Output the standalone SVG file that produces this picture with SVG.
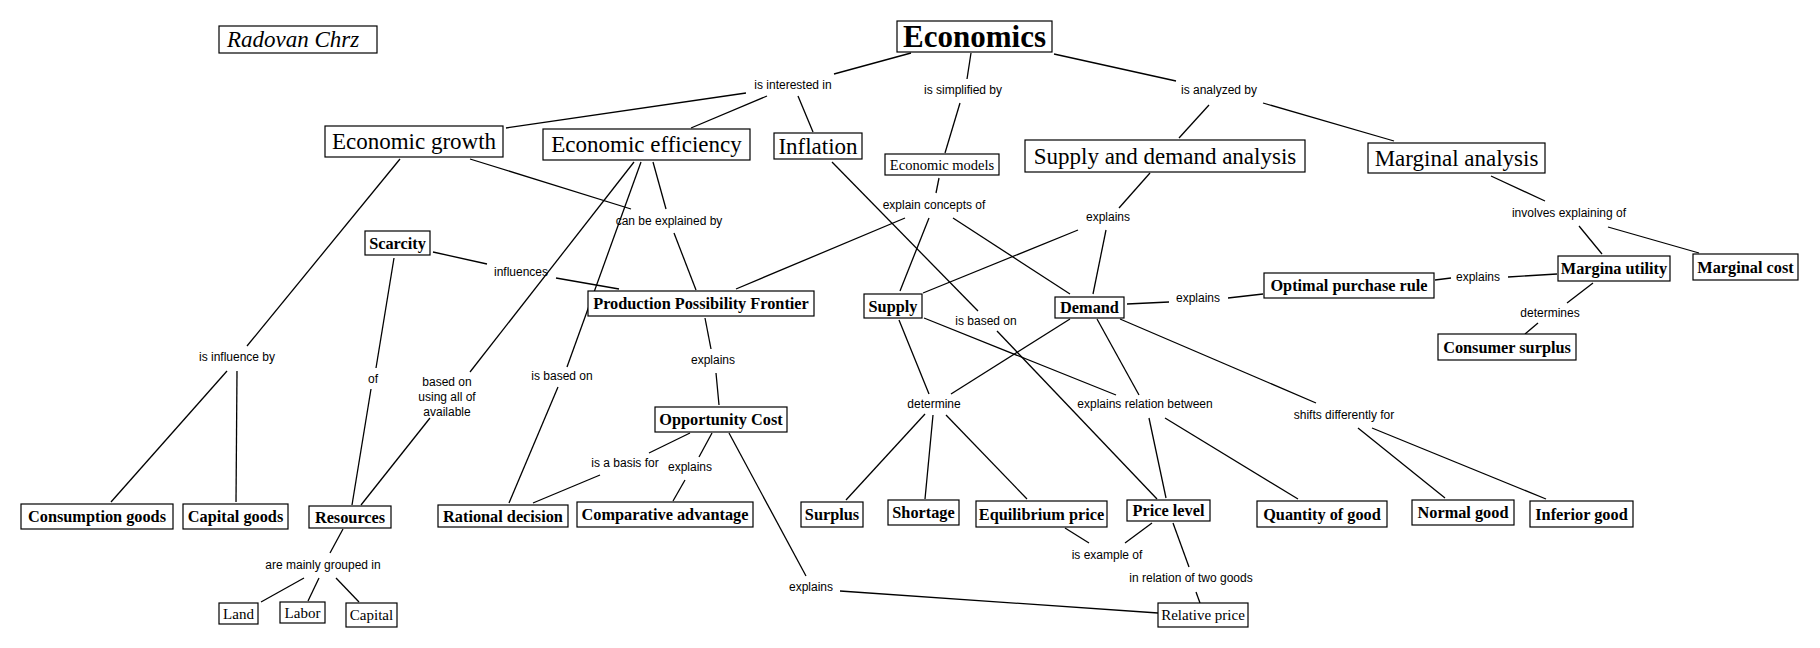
<svg xmlns="http://www.w3.org/2000/svg" width="1820" height="648" viewBox="0 0 1820 648">
<style>
.b{fill:#fff;stroke:#000;stroke-width:1.2}
.t{font-family:"Liberation Serif","Times New Roman",serif;fill:#000;text-anchor:middle}
.big{font-size:23px}
.bd{font-size:16.3px;font-weight:bold}
.sm{font-size:15px}
.lb{font-family:"Liberation Sans",Arial,sans-serif;font-size:12px;fill:#000;text-anchor:middle}
#connectors line{stroke:#000;stroke-width:1.3}
</style>
<rect width="1820" height="648" fill="#fff"/>
<g id="connectors">
<line x1="911" y1="53" x2="834" y2="74"/>
<line x1="746" y1="93" x2="506" y2="128"/>
<line x1="767" y1="96" x2="691" y2="128"/>
<line x1="798" y1="96" x2="813" y2="132"/>
<line x1="971" y1="53" x2="967" y2="79"/>
<line x1="960" y1="103" x2="945" y2="153"/>
<line x1="1054" y1="54" x2="1176" y2="81"/>
<line x1="1209" y1="105" x2="1179" y2="138"/>
<line x1="1263" y1="103" x2="1394" y2="141"/>
<line x1="832" y1="162" x2="978" y2="311"/>
<line x1="939" y1="178" x2="936" y2="193"/>
<line x1="1150" y1="173" x2="1119" y2="208"/>
<line x1="1491" y1="176" x2="1545" y2="201"/>
<line x1="674" y1="233" x2="696" y2="290"/>
<line x1="653" y1="162" x2="666" y2="209"/>
<line x1="634" y1="162" x2="470" y2="372"/>
<line x1="641" y1="162" x2="567" y2="367"/>
<line x1="558" y1="387" x2="509" y2="503"/>
<line x1="430" y1="418" x2="361" y2="505"/>
<line x1="394" y1="258" x2="376" y2="368"/>
<line x1="371" y1="389" x2="352" y2="505"/>
<line x1="433" y1="252" x2="487" y2="264"/>
<line x1="556" y1="278" x2="619" y2="289"/>
<line x1="400" y1="159" x2="247" y2="346"/>
<line x1="227" y1="371" x2="111" y2="502"/>
<line x1="237" y1="371" x2="236" y2="502"/>
<line x1="470" y1="159" x2="631" y2="209"/>
<line x1="705" y1="318" x2="711" y2="349"/>
<line x1="716" y1="373" x2="719" y2="405"/>
<line x1="905" y1="218" x2="736" y2="289"/>
<line x1="929" y1="218" x2="900" y2="291"/>
<line x1="953" y1="218" x2="1070" y2="294"/>
<line x1="1078" y1="230" x2="923" y2="293"/>
<line x1="1106" y1="230" x2="1093" y2="294"/>
<line x1="1127" y1="304" x2="1169" y2="302"/>
<line x1="1228" y1="298" x2="1263" y2="294"/>
<line x1="1435" y1="280" x2="1451" y2="278"/>
<line x1="1508" y1="277" x2="1557" y2="274"/>
<line x1="1579" y1="226" x2="1602" y2="254"/>
<line x1="1608" y1="227" x2="1699" y2="253"/>
<line x1="1593" y1="283" x2="1567" y2="303"/>
<line x1="1538" y1="323" x2="1525" y2="334"/>
<line x1="899" y1="320" x2="929" y2="394"/>
<line x1="1070" y1="319" x2="951" y2="394"/>
<line x1="924" y1="318" x2="1116" y2="395"/>
<line x1="1097" y1="319" x2="1139" y2="395"/>
<line x1="1120" y1="319" x2="1316" y2="403"/>
<line x1="997" y1="331" x2="1157" y2="499"/>
<line x1="925" y1="414" x2="846" y2="500"/>
<line x1="933" y1="415" x2="925" y2="499"/>
<line x1="946" y1="415" x2="1027" y2="499"/>
<line x1="1149" y1="418" x2="1166" y2="498"/>
<line x1="1165" y1="418" x2="1298" y2="499"/>
<line x1="1358" y1="428" x2="1445" y2="498"/>
<line x1="1372" y1="428" x2="1546" y2="499"/>
<line x1="690" y1="433" x2="649" y2="453"/>
<line x1="600" y1="475" x2="533" y2="503"/>
<line x1="712" y1="433" x2="699" y2="457"/>
<line x1="685" y1="480" x2="673" y2="501"/>
<line x1="729" y1="433" x2="806" y2="576"/>
<line x1="840" y1="591" x2="1158" y2="613"/>
<line x1="1065" y1="528" x2="1089" y2="543"/>
<line x1="1125" y1="543" x2="1152" y2="523"/>
<line x1="1173" y1="523" x2="1189" y2="567"/>
<line x1="1196" y1="592" x2="1200" y2="603"/>
<line x1="343" y1="529" x2="330" y2="553"/>
<line x1="304" y1="578" x2="261" y2="602"/>
<line x1="319" y1="578" x2="308" y2="601"/>
<line x1="336" y1="578" x2="359" y2="602"/>
</g>
<g id="labels">
<text class="lb" x="793" y="89">is interested in</text>
<text class="lb" x="963" y="94">is simplified by</text>
<text class="lb" x="1219" y="94">is analyzed by</text>
<text class="lb" x="669" y="225">can be explained by</text>
<text class="lb" x="934" y="209">explain concepts of</text>
<text class="lb" x="1108" y="221">explains</text>
<text class="lb" x="1569" y="217">involves explaining of</text>
<text class="lb" x="521" y="276">influences</text>
<text class="lb" x="1478" y="281">explains</text>
<text class="lb" x="1198" y="302">explains</text>
<text class="lb" x="1550" y="317">determines</text>
<text class="lb" x="237" y="361">is influence by</text>
<text class="lb" x="373" y="383">of</text>
<text class="lb" x="447" y="386">based on</text>
<text class="lb" x="447" y="401">using all of</text>
<text class="lb" x="447" y="416">available</text>
<text class="lb" x="562" y="380">is based on</text>
<text class="lb" x="713" y="364">explains</text>
<text class="lb" x="986" y="325">is based on</text>
<text class="lb" x="934" y="408">determine</text>
<text class="lb" x="1145" y="408">explains relation between</text>
<text class="lb" x="1344" y="419">shifts differently for</text>
<text class="lb" x="625" y="467">is a basis for</text>
<text class="lb" x="690" y="471">explains</text>
<text class="lb" x="323" y="569">are mainly grouped in</text>
<text class="lb" x="811" y="591">explains</text>
<text class="lb" x="1107" y="559">is example of</text>
<text class="lb" x="1191" y="582">in relation of two goods</text>
</g>
<g id="n-author"><rect class="b" x="219" y="26" width="158" height="27"/><text class="t big" font-style="italic" x="293" y="47">Radovan Chrz</text></g>
<g id="n-economics"><rect class="b" x="897" y="21" width="155" height="31"/><text class="t" font-size="31" font-weight="bold" x="974.5" y="47">Economics</text></g>
<g id="n-growth"><rect class="b" x="325" y="126" width="178" height="31"/><text class="t big" x="414" y="149">Economic growth</text></g>
<g id="n-efficiency"><rect class="b" x="543" y="129" width="207" height="31"/><text class="t big" x="646.5" y="152">Economic efficiency</text></g>
<g id="n-inflation"><rect class="b" x="774" y="133" width="88" height="26"/><text class="t big" x="818" y="154">Inflation</text></g>
<g id="n-models"><rect class="b" x="885" y="154" width="114" height="21"/><text class="t" font-size="14.5" x="942" y="169.5">Economic models</text></g>
<g id="n-sda"><rect class="b" x="1025" y="140" width="280" height="32"/><text class="t big" x="1165" y="164">Supply and demand analysis</text></g>
<g id="n-marginal"><rect class="b" x="1368" y="143" width="177" height="30"/><text class="t big" x="1456.5" y="166">Marginal analysis</text></g>
<g id="n-scarcity"><rect class="b" x="365" y="231" width="65" height="24"/><text class="t bd" x="397.5" y="248.5">Scarcity</text></g>
<g id="n-ppf"><rect class="b" x="588" y="291" width="226" height="25"/><text class="t bd" x="701" y="309">Production Possibility Frontier</text></g>
<g id="n-supply"><rect class="b" x="864" y="294" width="58" height="24"/><text class="t bd" x="893" y="311.5">Supply</text></g>
<g id="n-demand"><rect class="b" x="1055" y="297" width="69" height="21"/><text class="t bd" x="1089.5" y="313">Demand</text></g>
<g id="n-optimal"><rect class="b" x="1264" y="273" width="170" height="25"/><text class="t bd" x="1349" y="291">Optimal purchase rule</text></g>
<g id="n-mutility"><rect class="b" x="1558" y="256" width="112" height="25"/><text class="t bd" x="1614" y="274">Margina utility</text></g>
<g id="n-mcost"><rect class="b" x="1693" y="254" width="105" height="26"/><text class="t bd" x="1745.5" y="272.5">Marginal cost</text></g>
<g id="n-csurplus"><rect class="b" x="1438" y="334" width="138" height="26"/><text class="t bd" x="1507" y="352.5">Consumer surplus</text></g>
<g id="n-opp"><rect class="b" x="655" y="407" width="132" height="25"/><text class="t bd" x="721" y="425">Opportunity Cost</text></g>
<g id="n-consumption"><rect class="b" x="21" y="504" width="152" height="25"/><text class="t bd" x="97" y="522">Consumption goods</text></g>
<g id="n-capgoods"><rect class="b" x="183" y="504" width="105" height="25"/><text class="t bd" x="235.5" y="522">Capital goods</text></g>
<g id="n-resources"><rect class="b" x="309" y="506" width="82" height="22"/><text class="t bd" x="350" y="522.5">Resources</text></g>
<g id="n-rational"><rect class="b" x="438" y="505" width="130" height="22"/><text class="t bd" x="503" y="521.5">Rational decision</text></g>
<g id="n-comparative"><rect class="b" x="577" y="502" width="176" height="25"/><text class="t bd" x="665" y="520">Comparative advantage</text></g>
<g id="n-surplus"><rect class="b" x="801" y="502" width="62" height="25"/><text class="t bd" x="832" y="520">Surplus</text></g>
<g id="n-shortage"><rect class="b" x="888" y="500" width="71" height="25"/><text class="t bd" x="923.5" y="518">Shortage</text></g>
<g id="n-equilibrium"><rect class="b" x="976" y="501" width="131" height="26"/><text class="t bd" x="1041.5" y="519.5">Equilibrium price</text></g>
<g id="n-pricelevel"><rect class="b" x="1127" y="500" width="83" height="21"/><text class="t bd" x="1168.5" y="516">Price level</text></g>
<g id="n-quantity"><rect class="b" x="1257" y="501" width="130" height="26"/><text class="t bd" x="1322" y="519.5">Quantity of good</text></g>
<g id="n-normal"><rect class="b" x="1412" y="500" width="102" height="25"/><text class="t bd" x="1463" y="518">Normal good</text></g>
<g id="n-inferior"><rect class="b" x="1530" y="501" width="103" height="26"/><text class="t bd" x="1581.5" y="519.5">Inferior good</text></g>
<g id="n-land"><rect class="b" x="219" y="603" width="39" height="21"/><text class="t sm" x="238.5" y="618.5">Land</text></g>
<g id="n-labor"><rect class="b" x="280" y="602" width="45" height="21"/><text class="t sm" x="302.5" y="617.5">Labor</text></g>
<g id="n-capital"><rect class="b" x="346" y="603" width="51" height="24"/><text class="t sm" x="371.5" y="620">Capital</text></g>
<g id="n-relative"><rect class="b" x="1158" y="603" width="90" height="24"/><text class="t sm" x="1203" y="620">Relative price</text></g>
</svg>
